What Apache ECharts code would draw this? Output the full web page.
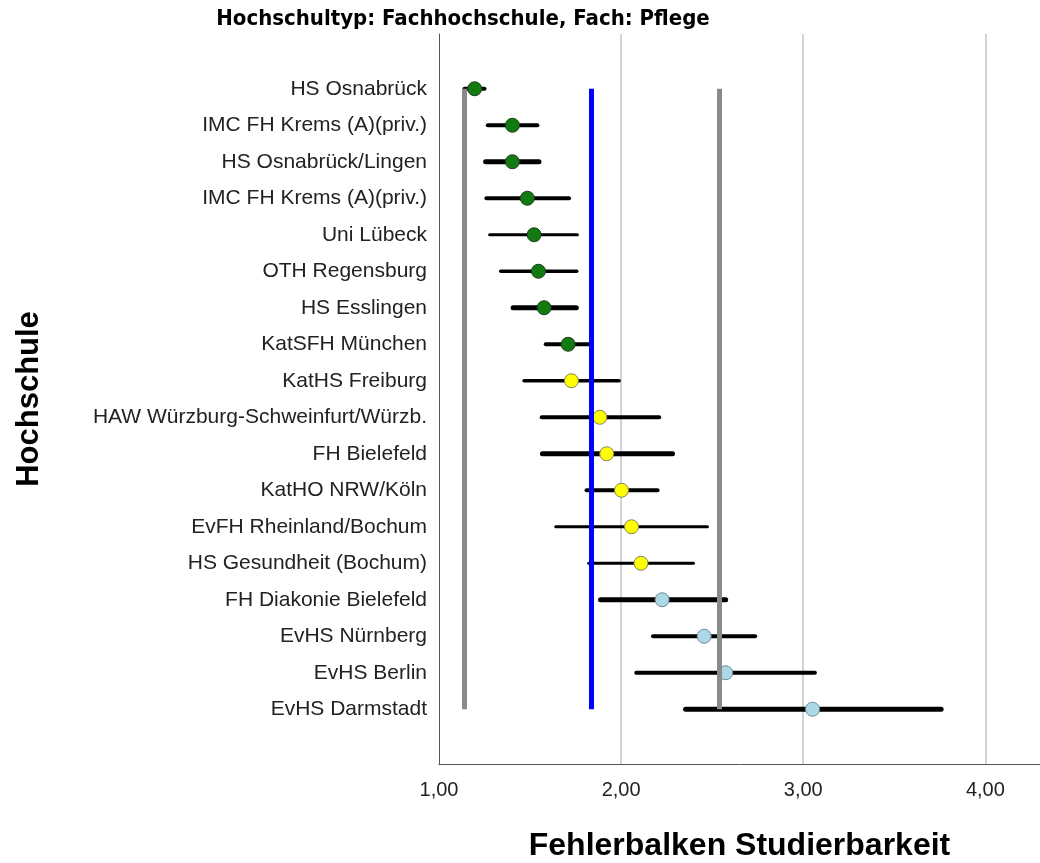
<!DOCTYPE html>
<html>
<head>
<meta charset="utf-8">
<script src="https://cdn.jsdelivr.net/npm/echarts@6/dist/echarts.min.js"></script>
<style>
  html, body { margin: 0; padding: 0; background: #fff; }
  #chart { width: 1040px; height: 863px; }
</style>
</head>
<body>
<div id="chart"></div>
<script>
var hochschulen = ['HS Osnabrück', 'IMC FH Krems (A)(priv.)', 'HS Osnabrück/Lingen', 'IMC FH Krems (A)(priv.)',
    'Uni Lübeck', 'OTH Regensburg', 'HS Esslingen', 'KatSFH München', 'KatHS Freiburg',
    'HAW Würzburg-Schweinfurt/Würzb.', 'FH Bielefeld', 'KatHO NRW/Köln', 'EvFH Rheinland/Bochum',
    'HS Gesundheit (Bochum)', 'FH Diakonie Bielefeld', 'EvHS Nürnberg', 'EvHS Berlin', 'EvHS Darmstadt'];
var mittelwert = [1.196, 1.403, 1.403, 1.485, 1.522, 1.546, 1.577, 1.709, 1.727,
    1.883, 1.921, 2.002, 2.057, 2.109, 2.225, 2.456, 2.574, 3.051];
var untereGrenze = [1.14, 1.268, 1.256, 1.26, 1.278, 1.339, 1.407, 1.586, 1.467,
    1.564, 1.568, 1.81, 1.641, 1.822, 1.887, 2.175, 2.083, 2.354];
var obereGrenze = [1.25, 1.54, 1.549, 1.714, 1.76, 1.756, 1.754, 1.83, 1.989,
    2.209, 2.282, 2.2, 2.474, 2.397, 2.574, 2.736, 3.064, 3.757];
// 0 = grün, 1 = gelb, 2 = hellblau
var gruppe = [0, 0, 0, 0, 0, 0, 0, 0, 1, 1, 1, 1, 1, 1, 2, 2, 2, 2];
var referenzWerte = [1.141, 1.838, 2.538];
var xTicks = [1, 2, 3, 4];

// Darstellung
var balkenBreite = [4, 4, 5, 4, 3, 3.5, 5, 4, 3.5, 4, 5, 4, 3, 3, 5, 4, 4, 5];
var gruppenFarben = ['#117a11', '#ffff00', '#add8e6'];
var gruppenRand = ['#1e3d1e', '#808060', '#6f8a94'];
var referenzFarben = ['#8a8a8a', '#0000ff', '#8a8a8a'];

var font = "'Liberation Sans', Arial, sans-serif";
var kategorien = [' '].concat(hochschulen, ['  ']);

var balkenDaten = [];
var punktDaten = [[], [], []];
for (var i = 0; i < hochschulen.length; i++) {
    balkenDaten.push([untereGrenze[i], obereGrenze[i], i + 1]);
    punktDaten[gruppe[i]].push([mittelwert[i], i + 1]);
}

var refLinien = [];
for (var r = 0; r < referenzWerte.length; r++) {
    refLinien.push([
        { coord: [referenzWerte[r], 1], lineStyle: { color: referenzFarben[r], width: 5, type: 'solid' } },
        { coord: [referenzWerte[r], hochschulen.length] }
    ]);
}

var chart = echarts.init(document.getElementById('chart'));
var option = {
    animation: false,
    title: {
        text: 'Hochschultyp: Fachhochschule, Fach: Pflege',
        left: 458,
        textAlign: 'center',
        top: 3,
        textStyle: {
            fontFamily: "'Liberation Sans Narrow', 'DejaVu Sans Condensed', sans-serif",
            fontWeight: 'bold',
            fontSize: 22,
            color: '#000'
        }
    },
    grid: { left: 439, right: 0, top: 34, bottom: 99, outerBoundsMode: 'none', containLabel: false },
    xAxis: {
        type: 'value',
        min: xTicks[0],
        max: 4.3,
        interval: 1,
        name: 'Fehlerbalken Studierbarkeit',
        nameLocation: 'middle',
        nameGap: 66,
        nameTextStyle: { fontFamily: font, fontWeight: 'bold', fontSize: 32, color: '#000' },
        axisLine: { show: true, onZero: false, lineStyle: { color: '#555', width: 1 } },
        axisTick: { show: false },
        axisLabel: {
            fontFamily: font, fontSize: 20, color: '#222', margin: 16,
            showMaxLabel: false,
            formatter: function (v) {
                return xTicks.indexOf(v) >= 0 ? v.toFixed(2).replace('.', ',') : '';
            }
        },
        splitLine: { show: true, showMinLine: false, showMaxLine: false, lineStyle: { color: '#c4c4c4', width: 1.5 } }
    },
    yAxis: {
        type: 'category',
        inverse: true,
        data: kategorien,
        name: 'Hochschule',
        nameLocation: 'middle',
        nameGap: 394,
        nameTextStyle: { fontFamily: font, fontWeight: 'bold', fontSize: 31, color: '#000' },
        axisLine: { show: true, lineStyle: { color: '#555', width: 1 } },
        axisTick: { show: false },
        axisLabel: { fontFamily: font, fontSize: 21, color: '#222', margin: 12, interval: 0 },
        splitLine: { show: false }
    },
    series: [
        {
            type: 'custom',
            z: 2,
            encode: { x: [0, 1], y: 2 },
            data: balkenDaten,
            renderItem: function (params, api) {
                var y = api.value(2);
                var a = api.coord([api.value(0), y]);
                var b = api.coord([api.value(1), y]);
                return {
                    type: 'line',
                    shape: { x1: a[0], y1: a[1], x2: b[0], y2: b[1] },
                    style: { stroke: '#000', lineWidth: balkenBreite[params.dataIndex], lineCap: 'round' }
                };
            }
        },
        {
            type: 'scatter',
            z: 3,
            data: [],
            markLine: { silent: true, symbol: 'none', label: { show: false }, data: refLinien }
        },
        {
            type: 'scatter', z: 4, symbolSize: 14, data: punktDaten[0],
            itemStyle: { color: gruppenFarben[0], borderColor: gruppenRand[0], borderWidth: 1, opacity: 1 }
        },
        {
            type: 'scatter', z: 4, symbolSize: 14, data: punktDaten[1],
            itemStyle: { color: gruppenFarben[1], borderColor: gruppenRand[1], borderWidth: 1, opacity: 1 }
        },
        {
            type: 'scatter', z: 4, symbolSize: 14, data: punktDaten[2],
            itemStyle: { color: gruppenFarben[2], borderColor: gruppenRand[2], borderWidth: 1, opacity: 1 }
        }
    ]
};
chart.setOption(option);
</script>
</body>
</html>
